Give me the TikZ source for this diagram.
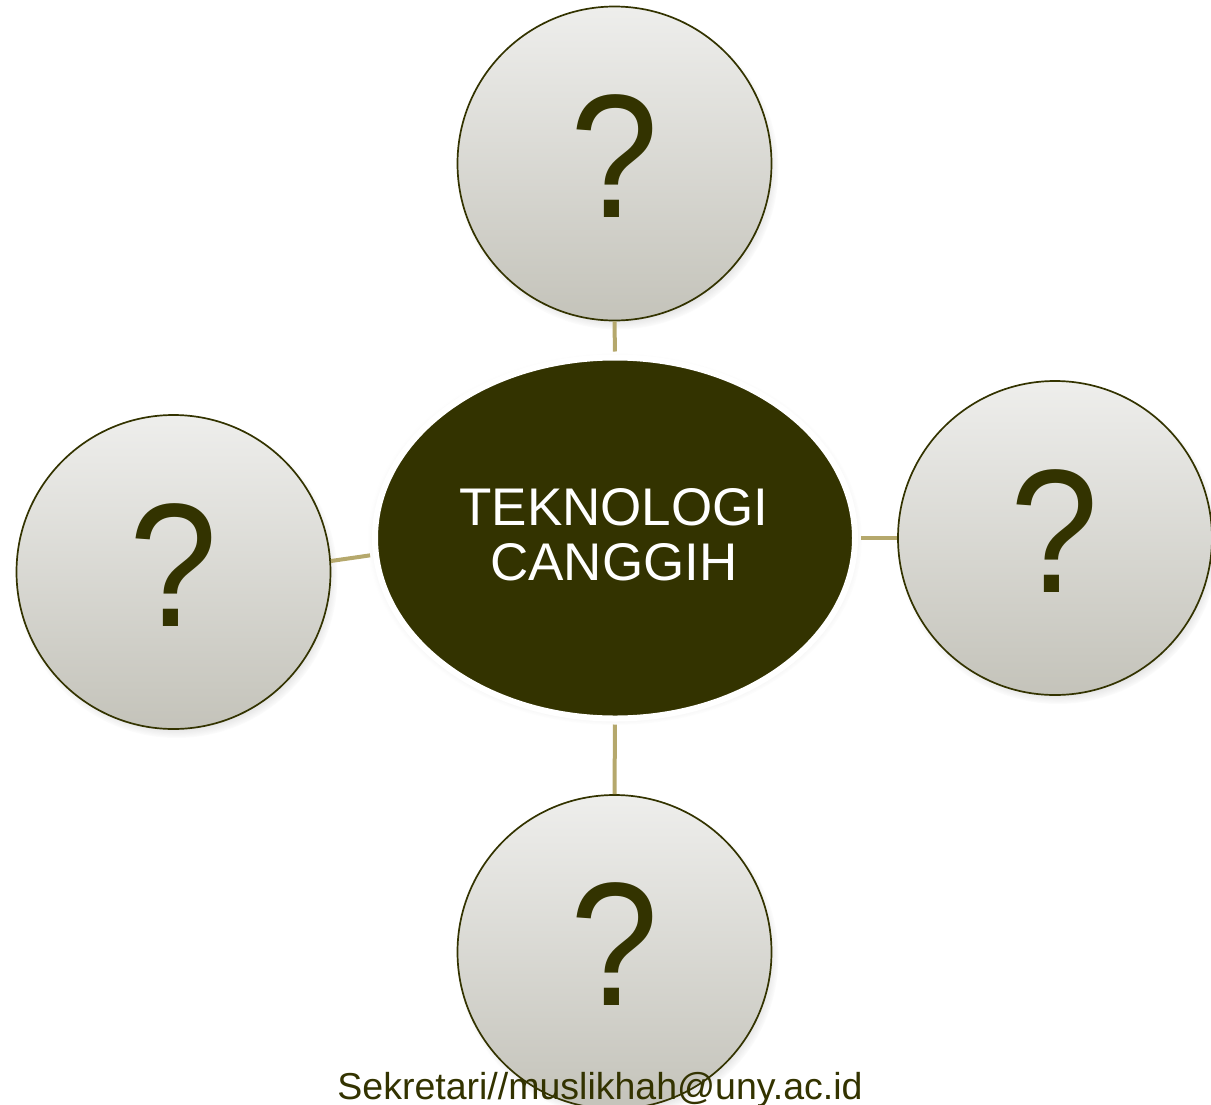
\documentclass[tikz,border=0pt]{standalone}
\usepackage{fontspec}
\setmainfont{Liberation Sans}
\usetikzlibrary{shadows,fadings,shapes.geometric}
\definecolor{olive}{HTML}{333300}
\definecolor{tan}{HTML}{B5A86C}
\definecolor{gtop}{HTML}{EEEEEC}
\definecolor{gbot}{HTML}{C4C3BA}
\tikzset{
  qcircle/.style={circle, minimum size=314bp, inner sep=0pt, draw=olive, line width=1.7bp,
    top color=gtop, bottom color=gbot,
    circular drop shadow={shadow scale=1.025, shadow xshift=3bp, shadow yshift=-5bp, opacity=0.4, fill=black!60}},
  qmark/.style={anchor=base, inner sep=0pt, text=olive, xscale=0.9, font=\fontsize{176bp}{176bp}\selectfont},
  hub/.style={ellipse, minimum width=480bp, minimum height=361bp, inner sep=0pt,
    fill=olive, draw=white, line width=6bp,
    circular drop shadow={shadow scale=1.03, shadow xshift=0bp, shadow yshift=-1bp, opacity=0.35, fill=black!50}},
  link/.style={draw=tan, line width=4bp}
}
\begin{document}
\begin{tikzpicture}[x=1bp, y=-1bp]
\useasboundingbox (0,0) rectangle (1211,1105);
\node[qcircle] (T) at (614.5,163.5) {};
\node[qcircle] (L) at (173.5,572) {};
\node[qcircle] (R) at (1055,538) {};
\node[qcircle] (B) at (614.5,952) {};
\node[hub] (C) at (615,538) {};
\node[qmark] (qT) at (614.5,217.5) {?};
\node[qmark] (qL) at (173.5,626) {?};
\node[qmark] (qR) at (1055,592) {?};
\node[qmark] (qB) at (614.5,1005.5) {?};
\node[align=center, inner sep=0pt, text=white, font=\fontsize{53bp}{55bp}\selectfont] (lab) at (614,535) {TEKNOLOGI\\CANGGIH};
\draw[link, shorten >=3bp] (T.south) -- (C.north);
\draw[link, shorten <=3bp] (C.south) -- (B.north);
\draw[link, shorten <=3bp] (C.east) -- (R.west);
\draw[link, shorten >=3bp] (L.4.4) -- (C.184);
\node[anchor=base, inner sep=0pt, text=olive, font=\fontsize{37.5bp}{40bp}\selectfont] (foot) at (600,1099) {Sekretari//muslikhah@uny.ac.id};
\end{tikzpicture}
\end{document}
